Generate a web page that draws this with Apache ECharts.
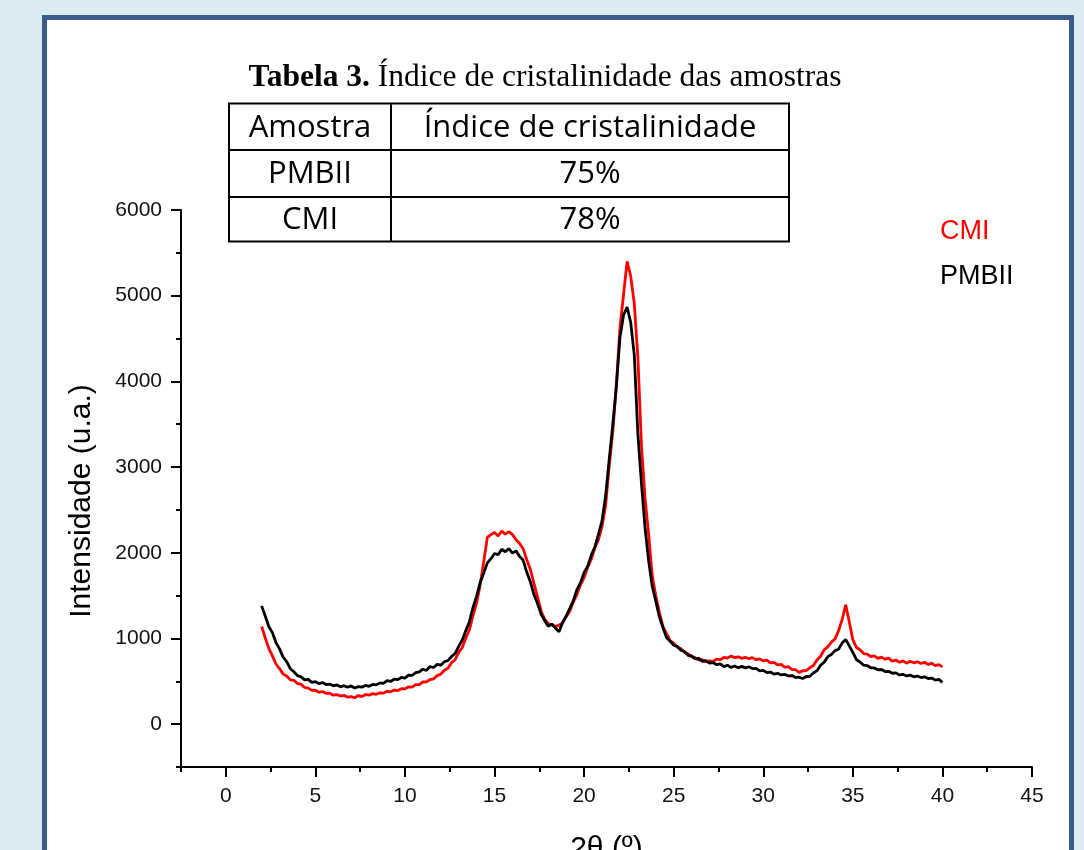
<!DOCTYPE html>
<html>
<head>
<meta charset="utf-8">
<script src="https://cdn.jsdelivr.net/npm/echarts@6/dist/echarts.min.js"></script>
<style>
  html, body { margin: 0; padding: 0; background: #dbecf3; overflow: hidden; }
  #frame { position: absolute; left: 42px; top: 15px; width: 1022px; height: 900px;
           border: 5px solid #3c5d8a; background: #ffffff; }
  #chart { position: absolute; left: 0; top: 0; width: 1084px; height: 850px; }
</style>
</head>
<body>
<div id="frame"></div>
<div id="chart"></div>
<script>
// Diffraction angle 2θ (degrees)
const twoTheta = [
  2, 2.2, 2.4, 2.6, 2.8, 3, 3.2, 3.4, 3.6, 3.8,
  4, 4.2, 4.4, 4.6, 4.8, 5, 5.2, 5.4, 5.6, 5.8,
  6, 6.2, 6.4, 6.6, 6.8, 7, 7.2, 7.4, 7.6, 7.8,
  8, 8.2, 8.4, 8.6, 8.8, 9, 9.2, 9.4, 9.6, 9.8,
  10, 10.2, 10.4, 10.6, 10.8, 11, 11.2, 11.4, 11.6, 11.8,
  12, 12.2, 12.4, 12.6, 12.8, 13, 13.2, 13.4, 13.6, 13.8,
  14, 14.2, 14.4, 14.6, 14.8, 15, 15.2, 15.4, 15.6, 15.8,
  16, 16.2, 16.4, 16.6, 16.8, 17, 17.2, 17.4, 17.6, 17.8,
  18, 18.2, 18.4, 18.6, 18.8, 19, 19.2, 19.4, 19.6, 19.8,
  20, 20.2, 20.4, 20.6, 20.8, 21, 21.2, 21.4, 21.6, 21.8,
  22, 22.2, 22.4, 22.6, 22.8, 23, 23.2, 23.4, 23.6, 23.8,
  24, 24.2, 24.4, 24.6, 24.8, 25, 25.2, 25.4, 25.6, 25.8,
  26, 26.2, 26.4, 26.6, 26.8, 27, 27.2, 27.4, 27.6, 27.8,
  28, 28.2, 28.4, 28.6, 28.8, 29, 29.2, 29.4, 29.6, 29.8,
  30, 30.2, 30.4, 30.6, 30.8, 31, 31.2, 31.4, 31.6, 31.8,
  32, 32.2, 32.4, 32.6, 32.8, 33, 33.2, 33.4, 33.6, 33.8,
  34, 34.2, 34.4, 34.6, 34.8, 35, 35.2, 35.4, 35.6, 35.8,
  36, 36.2, 36.4, 36.6, 36.8, 37, 37.2, 37.4, 37.6, 37.8,
  38, 38.2, 38.4, 38.6, 38.8, 39, 39.2, 39.4, 39.6, 39.8,
  40
];

// Intensity (u.a.) of sample CMI
const cmi = [
  1140, 1008, 884, 796, 702, 648, 584, 561, 518, 512,
  474, 466, 428, 421, 394, 396, 372, 381, 358, 362,
  338, 346, 328, 336, 314, 322, 308, 334, 322, 346,
  338, 356, 348, 366, 362, 384, 378, 398, 392, 414,
  412, 436, 432, 461, 462, 492, 494, 521, 528, 566,
  584, 628, 652, 718, 752, 838, 894, 1008, 1102, 1268,
  1412, 1628, 1900, 2180, 2212, 2238, 2196, 2252, 2218, 2246,
  2212, 2152, 2108, 2046, 1918, 1806, 1642, 1486, 1318, 1224,
  1172, 1158, 1138, 1156, 1182, 1252, 1318, 1428, 1512, 1626,
  1712, 1828, 1924, 2058, 2152, 2306, 2548, 3012, 3410, 3960,
  4620, 5010, 5400, 5230, 4910, 4290, 3260, 2640, 2220, 1740,
  1498, 1306, 1142, 1056, 976, 946, 898, 882, 838, 822,
  784, 776, 748, 752, 728, 738, 732, 758, 752, 778,
  772, 794, 776, 786, 768, 781, 764, 776, 752, 762,
  738, 748, 716, 722, 692, 698, 664, 672, 638, 636,
  604, 622, 626, 658, 684, 748, 792, 868, 902, 958,
  992, 1088, 1218, 1392, 1196, 986, 894, 868, 824, 818,
  788, 798, 768, 782, 758, 772, 734, 748, 722, 738,
  712, 734, 716, 728, 708, 722, 694, 712, 682, 694,
  668
];

// Intensity (u.a.) of sample PMBII
const pmbii = [
  1380, 1262, 1140, 1068, 952, 878, 782, 731, 648, 612,
  566, 551, 517, 522, 488, 497, 471, 486, 462, 468,
  447, 458, 436, 449, 431, 446, 421, 438, 432, 452,
  441, 463, 458, 482, 476, 507, 498, 526, 519, 545,
  538, 572, 568, 602, 611, 641, 628, 672, 661, 698,
  688, 728, 741, 789, 824, 908, 984, 1092, 1196, 1362,
  1494, 1652, 1763, 1882, 1931, 1992, 1978, 2041, 2012, 2048,
  1996, 2022, 1958, 1912, 1772, 1661, 1512, 1408, 1282, 1208,
  1141, 1168, 1122, 1078, 1186, 1262, 1351, 1442, 1571, 1652,
  1771, 1842, 1972, 2068, 2214, 2372, 2662, 3088, 3492, 3938,
  4512, 4772, 4868, 4690, 4310, 3390, 2812, 2296, 1908, 1612,
  1438, 1252, 1128, 1012, 968, 922, 908, 862, 848, 802,
  796, 762, 768, 732, 741, 712, 718, 694, 702, 672,
  688, 661, 679, 658, 674, 657, 670, 648, 652, 622,
  628, 602, 608, 584, 593, 574, 582, 563, 567, 544,
  548, 532, 556, 558, 597, 624, 688, 722, 788, 812,
  858, 874, 946, 988, 914, 838, 752, 726, 688, 684,
  658, 656, 634, 638, 614, 617, 594, 598, 574, 582,
  563, 572, 552, 562, 544, 552, 532, 538, 514, 522,
  488
];

// Axis ticks
const xTickLabels = [0, 5, 10, 15, 20, 25, 30, 35, 40, 45];
const xMinorTicks = [-2.5, 2.5, 7.5, 12.5, 17.5, 22.5, 27.5, 32.5, 37.5, 42.5];
const yTickLabels = [0, 1000, 2000, 3000, 4000, 5000, 6000];
const yMinorTicks = [-500, 500, 1500, 2500, 3500, 4500, 5500];

// Axis titles
const xAxisTitle = '2θ (º)';
const yAxisTitle = 'Intensidade (u.a.)';

// Crystallinity table
const tableTitleBold = 'Tabela 3.';
const tableTitleText = 'Índice de cristalinidade das amostras';
const tableHeader = ['Amostra', 'Índice de cristalinidade'];
const tableRows = [['PMBII', '75%'], ['CMI', '78%']];

const seriesNames = ['CMI', 'PMBII'];
const seriesColors = ['#ff0000', '#000000'];

const SANS = '"Liberation Sans", Arial, sans-serif';
const SERIF = '"Liberation Serif", "Times New Roman", serif';
const TABLE_FONT = '"Open Sans", "Noto Sans", sans-serif';

const chart = echarts.init(document.getElementById('chart'), null, { renderer: 'canvas' });

const toPairs = (ys) => twoTheta.map((x, i) => [x, ys[i]]);
const plainNumber = (v) => String(v);

// Table geometry
const tLeft = 229, tRight = 789, tCol = 391;
const tRowsY = [103.5, 150, 197, 241.5];
const graphics = [];
const lineStyle = { stroke: '#000', lineWidth: 2 };
graphics.push({ type: 'rect', shape: { x: tLeft, y: tRowsY[0], width: tRight - tLeft, height: tRowsY[3] - tRowsY[0] },
  style: { fill: null, stroke: '#000', lineWidth: 2 } });
graphics.push({ type: 'line', shape: { x1: tLeft, y1: tRowsY[1], x2: tRight, y2: tRowsY[1] }, style: lineStyle });
graphics.push({ type: 'line', shape: { x1: tLeft, y1: tRowsY[2], x2: tRight, y2: tRowsY[2] }, style: lineStyle });
graphics.push({ type: 'line', shape: { x1: tCol, y1: tRowsY[0], x2: tCol, y2: tRowsY[3] }, style: lineStyle });

const cells = [tableHeader].concat(tableRows);
cells.forEach((row, r) => {
  const cy = (tRowsY[r] + tRowsY[r + 1]) / 2 + 1;
  graphics.push({ type: 'text', x: (tLeft + tCol) / 2, y: cy,
    style: { text: row[0], font: '31px ' + TABLE_FONT, fill: '#000', align: 'center', verticalAlign: 'middle' } });
  graphics.push({ type: 'text', x: (tCol + tRight) / 2, y: cy,
    style: { text: row[1], font: '31px ' + TABLE_FONT, fill: '#000', align: 'center', verticalAlign: 'middle' } });
});

// Table caption
graphics.push({ type: 'text', x: 545, y: 78,
  style: {
    text: '{b|' + tableTitleBold + '\u00a0}{n|' + tableTitleText + '}',
    align: 'center', verticalAlign: 'middle',
    rich: {
      b: { fontFamily: SERIF, fontSize: 31.5, fontWeight: 'bold', fill: '#000' },
      n: { fontFamily: SERIF, fontSize: 31.5, fill: '#000' }
    }
  } });

// Series key
graphics.push({ type: 'text', x: 940, y: 232,
  style: { text: seriesNames[0], font: '27px ' + SANS, fill: seriesColors[0], align: 'left', verticalAlign: 'middle' } });
graphics.push({ type: 'text', x: 940, y: 277,
  style: { text: seriesNames[1], font: '27px ' + SANS, fill: seriesColors[1], align: 'left', verticalAlign: 'middle' } });

// Vertical axis title, rotated
graphics.push({ type: 'text', x: 82, y: 501, rotation: Math.PI / 2,
  style: { text: yAxisTitle, font: '30px ' + SANS, fill: '#000', align: 'center', verticalAlign: 'middle' } });

const axisLine = { show: true, onZero: false, lineStyle: { color: '#000', width: 2 } };
const hiddenLine = { show: false, onZero: false };

const option = {
  animation: false,
  backgroundColor: 'transparent',
  grid: { left: 181, top: 210, width: 851, height: 557, containLabel: false, outerBoundsMode: 'none' },
  xAxis: [
    {
      type: 'value', min: -2.5, max: 45, position: 'bottom',
      name: xAxisTitle, nameLocation: 'middle', nameGap: 67,
      nameTextStyle: { fontFamily: SANS, fontSize: 30, color: '#000' },
      axisLine: axisLine,
      axisTick: { show: true, inside: false, length: 10, customValues: xTickLabels, lineStyle: { color: '#000', width: 2 } },
      axisLabel: { show: true, customValues: xTickLabels, formatter: plainNumber, margin: 19, fontFamily: SANS, fontSize: 21, color: '#111' },
      splitLine: { show: false }
    },
    {
      type: 'value', min: -2.5, max: 45, position: 'bottom', offset: 0,
      axisLine: hiddenLine,
      axisTick: { show: true, inside: false, length: 5, customValues: xMinorTicks, lineStyle: { color: '#000', width: 2 } },
      axisLabel: { show: false },
      splitLine: { show: false }
    }
  ],
  yAxis: [
    {
      type: 'value', min: -500, max: 6000, position: 'left',
      axisLine: axisLine,
      axisTick: { show: true, inside: false, length: 10, customValues: yTickLabels, lineStyle: { color: '#000', width: 2 } },
      axisLabel: { show: true, customValues: yTickLabels, formatter: plainNumber, margin: 19, fontFamily: SANS, fontSize: 21, color: '#111' },
      splitLine: { show: false }
    },
    {
      type: 'value', min: -500, max: 6000, position: 'left', offset: 0,
      axisLine: hiddenLine,
      axisTick: { show: true, inside: false, length: 5, customValues: yMinorTicks, lineStyle: { color: '#000', width: 2 } },
      axisLabel: { show: false },
      splitLine: { show: false }
    }
  ],
  series: [
    {
      name: seriesNames[0], type: 'line', xAxisIndex: 0, yAxisIndex: 0,
      data: toPairs(cmi), showSymbol: false, symbol: 'none',
      lineStyle: { color: seriesColors[0], width: 2.8 }, z: 2
    },
    {
      name: seriesNames[1], type: 'line', xAxisIndex: 0, yAxisIndex: 0,
      data: toPairs(pmbii), showSymbol: false, symbol: 'none',
      lineStyle: { color: seriesColors[1], width: 2.8 }, z: 3
    }
  ],
  graphic: graphics
};

chart.setOption(option);
</script>
</body>
</html>
